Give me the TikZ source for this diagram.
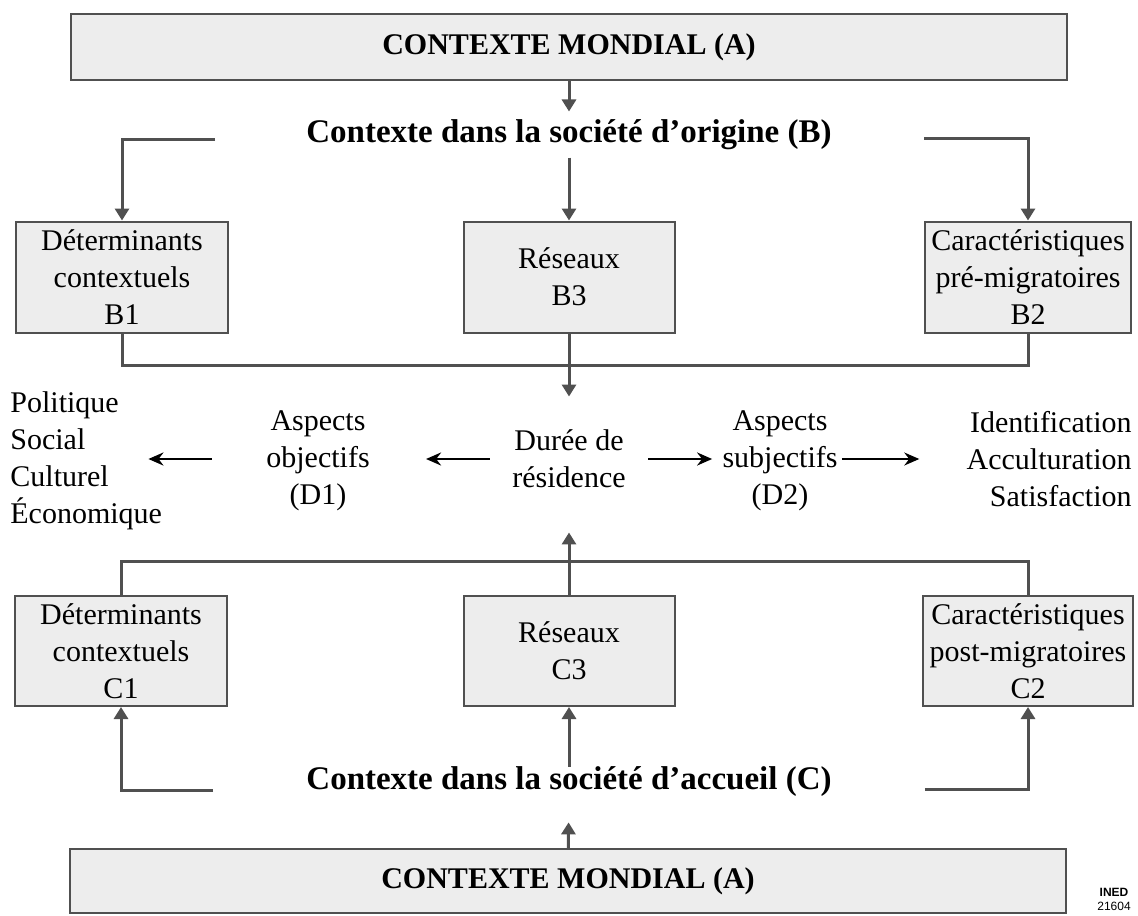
\documentclass[tikz,border=0pt]{standalone}
\usepackage{fontspec}
\setmainfont{Liberation Serif}
\newfontfamily\inedfont{Liberation Sans}
\usetikzlibrary{arrows.meta}

\definecolor{traitgris}{HTML}{505050}
\definecolor{fondgris}{HTML}{EDEDED}
\newcommand{\diagfont}{\fontsize{15}{18.5}\selectfont}
\newcommand{\titrefont}{\fontsize{16.5}{20}\selectfont\bfseries}

\tikzset{
	cadre/.style={draw=traitgris, fill=fondgris, line width=1pt, align=center, inner sep=0pt},
	bande/.style={cadre, minimum width=498pt, font=\diagfont\bfseries},
	texte/.style={align=center, inner sep=0pt},
	lien/.style={draw=traitgris, line width=1.5pt},
	fleche/.style={lien, -{Triangle[length=6pt,width=7pt]}},
	flechenoire/.style={line width=1.4pt, -{Stealth[length=7.5pt,width=6.5pt]}},
}

\begin{document}
\begin{tikzpicture}[x=0.5pt, y=-0.5pt, font=\diagfont]
			\useasboundingbox (0,0) rectangle (1138,915);
			
			\node[bande, minimum height=33pt] at(569,47) (mondeH) {CONTEXTE MONDIAL (A)};
			\node[texte, font=\titrefont] at(569,135) (origine) {Contexte dans la société d’origine (B)};
			
			\node[cadre, minimum width=106pt, minimum height=55.5pt] at(122,277) (b1) {Déterminants\\contextuels\\B1};
			\node[cadre, minimum width=105.5pt, minimum height=55.5pt] at(569,277) (b3) {Réseaux\\B3};
			\node[cadre, minimum width=103pt, minimum height=55.5pt] at(1028,277) (b2) {Caractéristiques\\pré-migratoires\\B2};
			
			\node[texte, align=left, anchor=west] at(10,461) (domaines) {Politique\\Social\\Culturel\\Économique};
			\node[texte] at(318,461) (d1) {Aspects\\objectifs\\(D1)};
			\node[texte] at(569,459) (duree) {Durée de\\résidence};
			\node[texte] at(780,461) (d2) {Aspects\\subjectifs\\(D2)};
			\node[texte, align=right, anchor=east] at(1132,459) (ressenti) {Identification\\Acculturation\\Satisfaction};
			
			\node[cadre, minimum width=106pt, minimum height=55pt] at(121,651) (c1) {Déterminants\\contextuels\\C1};
			\node[cadre, minimum width=105.5pt, minimum height=55pt] at(569,651) (c3) {Réseaux\\C3};
			\node[cadre, minimum width=105pt, minimum height=55pt] at(1028,651) (c2) {Caractéristiques\\post-migratoires\\C2};
			
			\node[texte, font=\titrefont] at(569,782) (accueil) {Contexte dans la société d’accueil (C)};
			\node[bande, minimum height=32pt] at(568,881) (mondeB) {CONTEXTE MONDIAL (A)};
			\node[texte, font=\inedfont\fontsize{6}{7}\selectfont] at(1114,899) (ined) {\textbf{INED}\\21604};
			
			\draw[fleche, shorten >=4pt] (mondeH) -- (origine);
			\draw[fleche, shorten <=3.5pt] (origine) -- (b3);
			\draw[fleche] ([shift={(-91,4)}]origine.west) -| (b1);
			\draw[fleche] ([shift={(92,3)}]origine.east) -| (b2);
			
			\draw[lien] (b1.south) -- ++(0,32) -| (b2.south);
			\draw[fleche, shorten >=16.5pt] (b3.south) -- (duree.north);
			
			\draw[flechenoire, shorten <=11pt, shorten >=28pt] (duree.west) -- (d1.east |- duree.west);
			\draw[flechenoire, shorten <=27pt, shorten >=-7pt] (d1.west |- duree.west) -- (domaines.east |- duree.west);
			\draw[flechenoire, shorten <=11pt, shorten >=5pt] (duree.east) -- (d2.west |- duree.east);
			\draw[flechenoire, line width=0.7pt, shorten <=2pt, shorten >=23.5pt] (d2.east |- duree.east) -- (ressenti.west |- duree.east);
			
			\draw[lien] (c1.north) -- ++(0,-34) -| (c2.north);
			\draw[fleche, shorten >=22pt] (c3.north) -- (duree.south);
			
			\draw[fleche] (accueil) -- (c3);
			\draw[fleche] ([shift={(-93,8)}]accueil.west) -| (c1);
			\draw[fleche] ([shift={(93,7)}]accueil.east) -| (c2);
			\draw[fleche, shorten >=12.5pt] (mondeB) -- (accueil);
\end{tikzpicture}
\end{document}
